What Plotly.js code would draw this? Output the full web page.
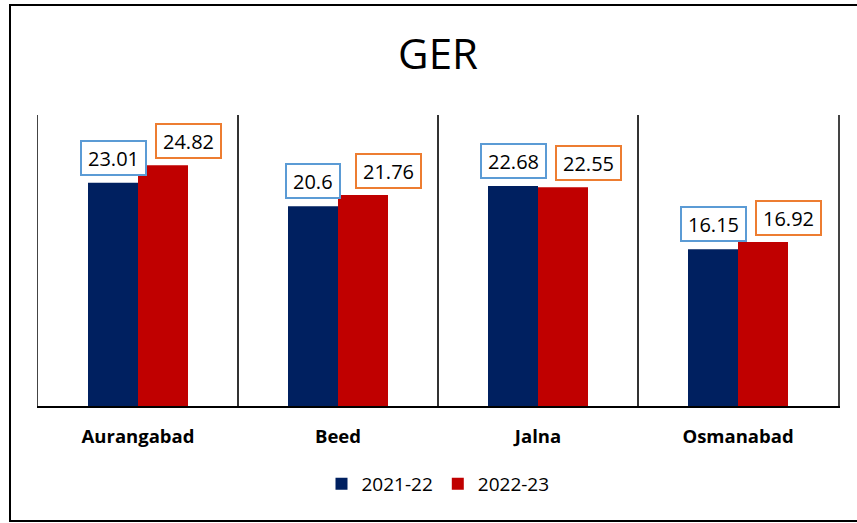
<!DOCTYPE html>
<html>
<head>
<meta charset="utf-8">
<script src="https://cdn.plot.ly/plotly-3.0.1.min.js"></script>
<style>html,body{margin:0;padding:0;background:#fff;}#chart{width:857px;height:523px;}</style>
</head>
<body>
<div id="chart"></div>
<script>
const categories = ["Aurangabad", "Beed", "Jalna", "Osmanabad"];
const seriesNames = ["2021-22", "2022-23"];
const values2021 = [23.01, 20.6, 22.68, 16.15];
const values2022 = [24.82, 21.76, 22.55, 16.92];
const yRange = [0, 30];

const barColors = ["#002060", "#C00000"];
const labelBorders = ["#5B9BD5", "#ED7D31"];
const FONT = "'Open Sans', 'Liberation Sans', sans-serif";

const traces = [
  {type: "bar", name: seriesNames[0], x: categories, y: values2021, marker: {color: barColors[0]}, hoverinfo: "none"},
  {type: "bar", name: seriesNames[1], x: categories, y: values2022, marker: {color: barColors[1]}, hoverinfo: "none"}
];

const annotations = [];
const fmt = v => String(v);
[values2021, values2022].forEach((vals, s) => {
  vals.forEach((v, i) => {
    annotations.push({
      xref: "x", yref: "y", x: categories[i], y: v,
      text: fmt(v), showarrow: false,
      xanchor: "center", yanchor: "bottom",
      xshift: s === 0 ? -25 : 50, yshift: s === 0 ? 7 : 6,
      font: {family: FONT, size: 20, color: "#000"},
      bgcolor: "#fff", bordercolor: labelBorders[s], borderwidth: 2,
      borderpad: 6, height: 20
    });
  });
});

const layout = {
  width: 857, height: 523,
  margin: {l: 38, r: 19, t: 115, b: 117},
  paper_bgcolor: "#fff", plot_bgcolor: "#fff",
  title: {text: "GER", font: {family: FONT, size: 42, color: "#000"}, x: 0.5, xanchor: "center", xref: "paper", y: 0.896, yref: "container", yanchor: "middle"},
  barmode: "group", bargap: 0.5, bargroupgap: 0,
  xaxis: {
    type: "category", showgrid: true, tickson: "boundaries", gridcolor: "#333", gridwidth: 1.5,
    showline: true, linecolor: "#000", linewidth: 2, ticks: "", ticklabelstandoff: 13,
    tickfont: {family: FONT, size: 18.5, color: "#000", weight: "bold"}, fixedrange: true
  },
  yaxis: {
    range: yRange, showgrid: false, zeroline: false, showticklabels: false, ticks: "",
    showline: true, mirror: true, linecolor: "#444", linewidth: 1.5, fixedrange: true
  },
  showlegend: true,
  legend: {orientation: "h", x: 0.5, xanchor: "center", y: -0.268, yanchor: "middle", font: {family: FONT, size: 19, color: "#000"}, itemclick: false},
  annotations: annotations,
  shapes: [{type: "rect", xref: "paper", yref: "paper", x0: -0.035, x1: 1.05, y0: -0.395, y1: 1.378, line: {color: "#000", width: 2}, fillcolor: "rgba(0,0,0,0)", layer: "above"}]
};

Plotly.newPlot("chart", traces, layout, {displayModeBar: false, staticPlot: true});
</script>
</body>
</html>
